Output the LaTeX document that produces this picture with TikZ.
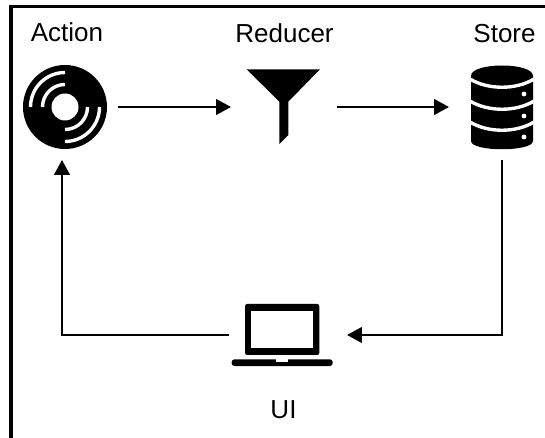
\documentclass[tikz,border=0pt]{standalone}
\usepackage{fontspec}
\setmainfont{Liberation Sans}
\usetikzlibrary{arrows.meta}
\tikzset{
    slot/.style={inner sep=0, outer sep=0, minimum width=#1, minimum height=2.65cm},
    caption/.style={anchor=base, font=\fontsize{18.5pt}{22pt}\selectfont},
    link/.style={-{Triangle[length=10.5pt, width=11pt]}, black, line width=1.5pt},
    stripe/.style={white, line width=2.4pt}
}
\begin{document}
\begin{tikzpicture}[x=0.025cm, y=-0.025cm]
    \useasboundingbox (0,0) rectangle (545,438);

    \coordinate (FRAMEA) at (11,438);
    \coordinate (FRAMEB) at (11,6.5);
    \coordinate (FRAMEC) at (545,6.5);
    \draw[black, line width=2.4pt] (FRAMEA) -- (FRAMEB) -- (FRAMEC);

    \node[slot=2.8cm] (ACTION) at (62,107) {};
    \node[slot=2.65cm] (REDUCER) at (284,107) {};
    \node[slot=2.65cm] (STORE) at (502,107) {};
    \node[slot=2.95cm, minimum height=1.5cm] (UI) at (288,335) {};

    \node[caption] (ACTIONTEXT) at (67,41.7) {Action};
    \node[caption] (REDUCERTEXT) at (284.5,43) {Reducer};
    \node[caption] (STORETEXT) at (504.5,43) {Store};
    \node[caption] (UITEXT) at (283.5,418) {UI};

    % disc
    \fill[black] (65,107) circle [radius=42*0.025cm];
    \fill[white] (65,107) circle [radius=13.5*0.025cm];
    \foreach \r in {22.5,34.5} {
        \draw[stripe] (65-\r,107) arc [start angle=180, end angle=90, radius=\r*0.025cm];
        \draw[stripe] (65+\r,107) arc [start angle=0, end angle=-90, radius=\r*0.025cm];
    }

    % funnel
    \fill[black] (246.7,69.3) -- (320,69.3) -- (288.3,101.7) -- (288.3,135)
        -- (279.3,144) -- (279.3,101.7) -- cycle;

    % database
    \fill[black] (471,76) .. controls (471,62) and (533,62) .. (533,76) -- (533,141)
        .. controls (533,152) and (471,152) .. (471,141) -- cycle;
    \foreach \y in {79,101,122} {
        \draw[stripe] (470,\y) .. controls (488,\y+11) and (516,\y+11) .. (534,\y);
    }
    \foreach \y in {94,116,137} {
        \fill[white] (524,\y) circle [radius=2.4*0.025cm];
    }

    % laptop
    \fill[black, rounded corners=1.5pt] (245,355) -- (245,304) -- (319.3,304) -- (319.3,355) -- cycle;
    \fill[white] (251,311) rectangle (312.7,348.3);
    \fill[black, rounded corners=2pt] (231.7,359.3) -- (332.7,359.3) -- (332.7,366) -- (231.7,366) -- cycle;
    \fill[white] (276,359) rectangle (288,361.7);

    \draw[link] (ACTION) -- (REDUCER);
    \draw[link] (REDUCER) -- (STORE);
    \draw[link] (STORE.south) |- (UI.east);
    \draw[link] (UI.west) -| (ACTION.south);
\end{tikzpicture}
\end{document}
